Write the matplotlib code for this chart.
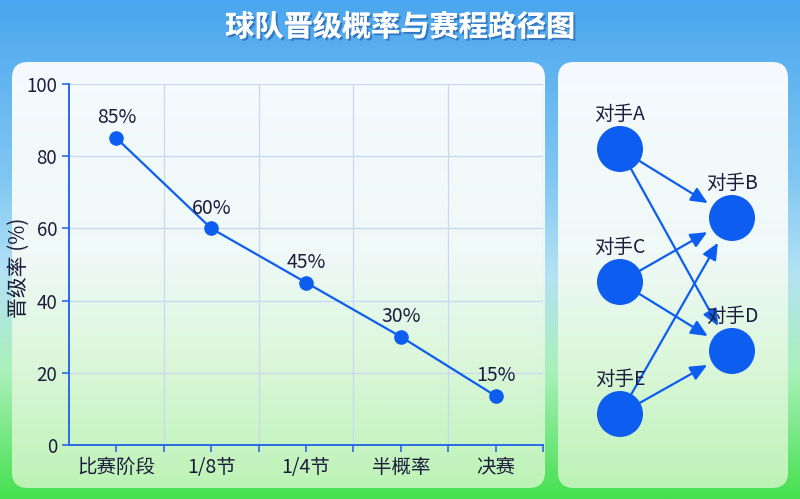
import matplotlib
matplotlib.use("Agg")
import matplotlib.pyplot as plt
import matplotlib.patheffects as pe
from matplotlib.patches import FancyBboxPatch, Circle, FancyArrowPatch
from matplotlib.colors import LinearSegmentedColormap
import numpy as np

plt.rcParams['font.family'] = ['Noto Sans CJK SC', 'DejaVu Sans']

# data
stages = ['比赛阶段', '1/8节', '1/4节', '半概率', '决赛']
probs = [85, 60, 45, 30, 13.6]
prob_labels = ['85%', '60%', '45%', '30%', '15%']
yticks = [0, 20, 40, 60, 80, 100]

teams = ['对手A', '对手B', '对手C', '对手D', '对手E']
edges = [('对手A', '对手B'), ('对手A', '对手D'), ('对手C', '对手B'),
         ('对手C', '对手D'), ('对手E', '对手B'), ('对手E', '对手D')]
# node layout in figure pixels
node_pos = {'对手A': (620, 149), '对手B': (732, 218), '对手C': (620, 282),
            '对手D': (732, 351), '对手E': (620, 414)}

W, H = 800, 499
blue = '#0d5ef0'
navy = '#1c1c3c'

fig = plt.figure(figsize=(8, 4.99), dpi=100)

# background axes in pixel coords
bg = fig.add_axes([0, 0, 1, 1], zorder=0)
bg.set_xlim(0, W)
bg.set_ylim(H, 0)
bg.axis('off')

sky = LinearSegmentedColormap.from_list('sky', [
    (0.0, '#4aa6ee'), (0.35, '#80c6f2'), (0.55, '#b4e2f4'),
    (0.75, '#a8f0b8'), (1.0, '#46e050')])
grad = np.linspace(0, 1, 256).reshape(-1, 1)
bg.imshow(grad, cmap=sky, extent=[0, W, H, 0], aspect='auto', zorder=0)

panel_cmap = LinearSegmentedColormap.from_list('panel', [
    (0.0, '#ffffff'), (0.45, '#f4fbf8'), (1.0, '#c4f4bc')])
for x0, x1 in [(12, 545), (558, 788)]:
    box = FancyBboxPatch((x0, 62), x1 - x0, 426,
                         boxstyle='round,pad=0,rounding_size=16',
                         facecolor='none', edgecolor='none', zorder=1)
    bg.add_patch(box)
    im = bg.imshow(grad, cmap=panel_cmap, extent=[x0, x1, 488, 62],
                   aspect='auto', zorder=1, alpha=0.95)
    im.set_clip_path(box)

bg.text(W / 2, 27, '球队晋级概率与赛程路径图', color='white', fontsize=21,
        fontweight='bold', ha='center', va='center', zorder=5,
        path_effects=[pe.withSimplePatchShadow(offset=(1.5, -1.5),
                                               shadow_rgbFace='#1d4f9c',
                                               alpha=0.55), pe.Normal()])

# network
circles = {}
for t in teams:
    cx, cy = node_pos[t]
    c = Circle((cx, cy), 23, facecolor=blue, edgecolor='none', zorder=4)
    bg.add_patch(c)
    circles[t] = c
    bg.text(cx, cy - 35, t, fontsize=14, color=navy, ha='center',
            va='center', zorder=6)

for a, b in edges:
    arr = FancyArrowPatch(node_pos[a], node_pos[b], patchA=circles[a],
                          patchB=circles[b], shrinkA=0, shrinkB=4,
                          arrowstyle='-|>,head_length=10,head_width=4.5',
                          mutation_scale=1, color=blue, lw=1.6, zorder=3)
    bg.add_patch(arr)

# line chart
ax = fig.add_axes([69 / W, 1 - 445 / H, (543 - 69) / W, (445 - 84) / H],
                  zorder=2)
ax.patch.set_alpha(0)
x = np.arange(len(stages))
ax.plot(x, probs, color=blue, lw=1.6, marker='o', markersize=9.5, zorder=3)
for xi, yi, lab in zip(x, probs, prob_labels):
    ax.annotate(lab, (xi, yi), xytext=(0, 7), textcoords='offset points',
                ha='center', va='bottom', fontsize=14, color=navy)

ax.set_xlim(-0.5, len(stages) - 0.5)
ax.set_ylim(0, 100)
ax.set_yticks(yticks)
ax.set_xticks(x)
ax.set_xticklabels(stages, fontsize=14)
ax.set_xticks(np.arange(len(stages)) + 0.5, minor=True)
ax.grid(True, axis='y', color='#c9d8f2', lw=0.9)
ax.grid(True, axis='x', which='minor', color='#c9d8f2', lw=0.9)
ax.grid(False, axis='x', which='major')
for s in ['top', 'right']:
    ax.spines[s].set_visible(False)
for s in ['left', 'bottom']:
    ax.spines[s].set_color('#2a6ae6')
    ax.spines[s].set_linewidth(1.4)
ax.tick_params(which='both', colors='#2a6ae6', labelcolor=navy,
               labelsize=13.5, length=5, width=1.2)
ax.tick_params(axis='x', labelsize=14)
ax.set_ylabel('晋级率 (%)', fontsize=15, color=navy)
ax.yaxis.set_label_coords(-0.082, 0.49)

fig.savefig('out.png', dpi=100)
